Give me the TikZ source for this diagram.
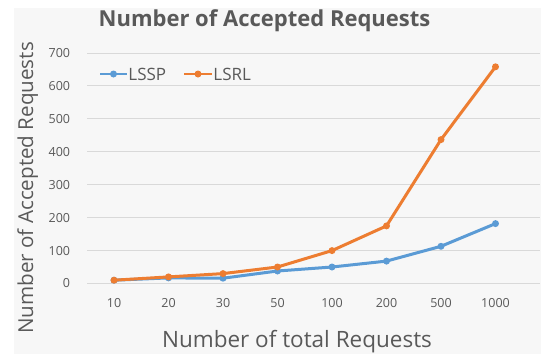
\documentclass[tikz,border=0pt]{standalone}
\usepackage{fontspec}
\setmainfont{Open Sans}
\usepackage{xcolor}
\usepackage{tikz}
\usetikzlibrary{positioning}
\definecolor{lsspblue}{RGB}{91,155,213}
\definecolor{lsrlorange}{RGB}{237,125,49}
\definecolor{gridgray}{RGB}{217,217,217}
\definecolor{textgray}{RGB}{89,89,89}
\definecolor{bggray}{RGB}{247,247,247}
\tikzset{
  gridline/.style={draw=gridgray, line width=1},
  ticklabel/.style={text=textgray, inner sep=0.75pt, font=\fontsize{12.5}{14}\selectfont},
  axislabel/.style={text=textgray, inner sep=0.75pt, font=\fontsize{22.5}{26}\selectfont},
  legendlabel/.style={text=textgray, inner sep=0.75pt, anchor=west, font=\fontsize{17}{19}\selectfont},
  sspline/.style={draw=lsspblue, line width=3, line join=round},
  srlline/.style={draw=lsrlorange, line width=3, line join=round},
  sspdot/.style={circle, fill=lsspblue, inner sep=0pt, minimum size=7},
  srldot/.style={circle, fill=lsrlorange, inner sep=0pt, minimum size=7},
}

\begin{document}
\begin{tikzpicture}[x=1pt,y=1pt,yscale=-1,xscale=1]
\useasboundingbox (0,0) rectangle (541,354);

%Chart area
        \fill [bggray] (14,8) rectangle (541,354);

%Grid lines
        \draw [gridline] (87,283.5) -- (540,283.5);
        \draw [gridline] (87,250.6) -- (540,250.6);
        \draw [gridline] (87,217.6) -- (540,217.6);
        \draw [gridline] (87,184.7) -- (540,184.7);
        \draw [gridline] (87,151.8) -- (540,151.8);
        \draw [gridline] (87,118.9) -- (540,118.9);
        \draw [gridline] (87,85.9) -- (540,85.9);
        \draw [gridline] (87,53.0) -- (540,53.0);

% Text Node
        \node [ticklabel, anchor=east] (y0) at (71,283.5) {0};
        \node [ticklabel, anchor=east] (y100) at (71,250.6) {100};
        \node [ticklabel, anchor=east] (y200) at (71,217.6) {200};
        \node [ticklabel, anchor=east] (y300) at (71,184.7) {300};
        \node [ticklabel, anchor=east] (y400) at (71,151.8) {400};
        \node [ticklabel, anchor=east] (y500) at (71,118.9) {500};
        \node [ticklabel, anchor=east] (y600) at (71,85.9) {600};
        \node [ticklabel, anchor=east] (y700) at (71,53.0) {700};

% Text Node
        \node [ticklabel] (x10) at (114,303.5) {10};
        \node [ticklabel] (x20) at (168.5,303.5) {20};
        \node [ticklabel] (x30) at (223,303.5) {30};
        \node [ticklabel] (x50) at (277.5,303.5) {50};
        \node [ticklabel] (x100) at (332,303.5) {100};
        \node [ticklabel] (x200) at (386.5,303.5) {200};
        \node [ticklabel] (x500) at (441,303.5) {500};
        \node [ticklabel] (x1000) at (495.5,303.5) {1000};

% Text Node
        \node [text=textgray, inner sep=0.75pt, anchor=base, font=\bfseries\fontsize{22}{26}\selectfont] (title) at (264.5,26) {Number of Accepted Requests};
% Text Node
        \node [axislabel, anchor=base] (xlabel) at (297,347.5) {Number of total Requests};
% Text Node
        \node [axislabel, anchor=base, rotate=90, font=\fontsize{20.6}{24}\selectfont] (ylabel) at (33,188) {Number of Accepted Requests};

%LSSP series
        \node [sspdot] (s1) at (114,280.2) {};
        \node [sspdot] (s2) at (168.5,277.9) {};
        \node [sspdot] (s3) at (223,278.2) {};
        \node [sspdot] (s4) at (277.5,271.0) {};
        \node [sspdot] (s5) at (332,267.0) {};
        \node [sspdot] (s6) at (386.5,261.1) {};
        \node [sspdot] (s7) at (441,246.3) {};
        \node [sspdot] (s8) at (495.5,223.6) {};
        \draw [sspline] (s1.center) -- (s2.center) -- (s3.center) -- (s4.center) -- (s5.center) -- (s6.center) -- (s7.center) -- (s8.center);

%LSRL series
        \node [srldot] (r1) at (114,280.2) {};
        \node [srldot] (r2) at (168.5,276.9) {};
        \node [srldot] (r3) at (223,273.6) {};
        \node [srldot] (r4) at (277.5,267.0) {};
        \node [srldot] (r5) at (332,250.6) {};
        \node [srldot] (r6) at (386.5,225.9) {};
        \node [srldot] (r7) at (441,139.6) {};
        \node [srldot] (r8) at (495.5,66.8) {};
        \draw [srlline] (r1.center) -- (r2.center) -- (r3.center) -- (r4.center) -- (r5.center) -- (r6.center) -- (r7.center) -- (r8.center);

%Legend
        \node [sspdot] (ssplegdot) at (113.5,74) {};
        \draw [sspline, line width=2.5] (100,74) -- (ssplegdot.center) -- (127,74);
        \node [legendlabel] (ssplegend) at (127.5,74) {LSSP};
        \node [srldot] (srllegdot) at (198,74) {};
        \draw [srlline, line width=2.5] (184,74) -- (srllegdot.center) -- (212,74);
        \node [legendlabel] (srllegend) at (212.5,74) {LSRL};

\end{tikzpicture}
\end{document}
